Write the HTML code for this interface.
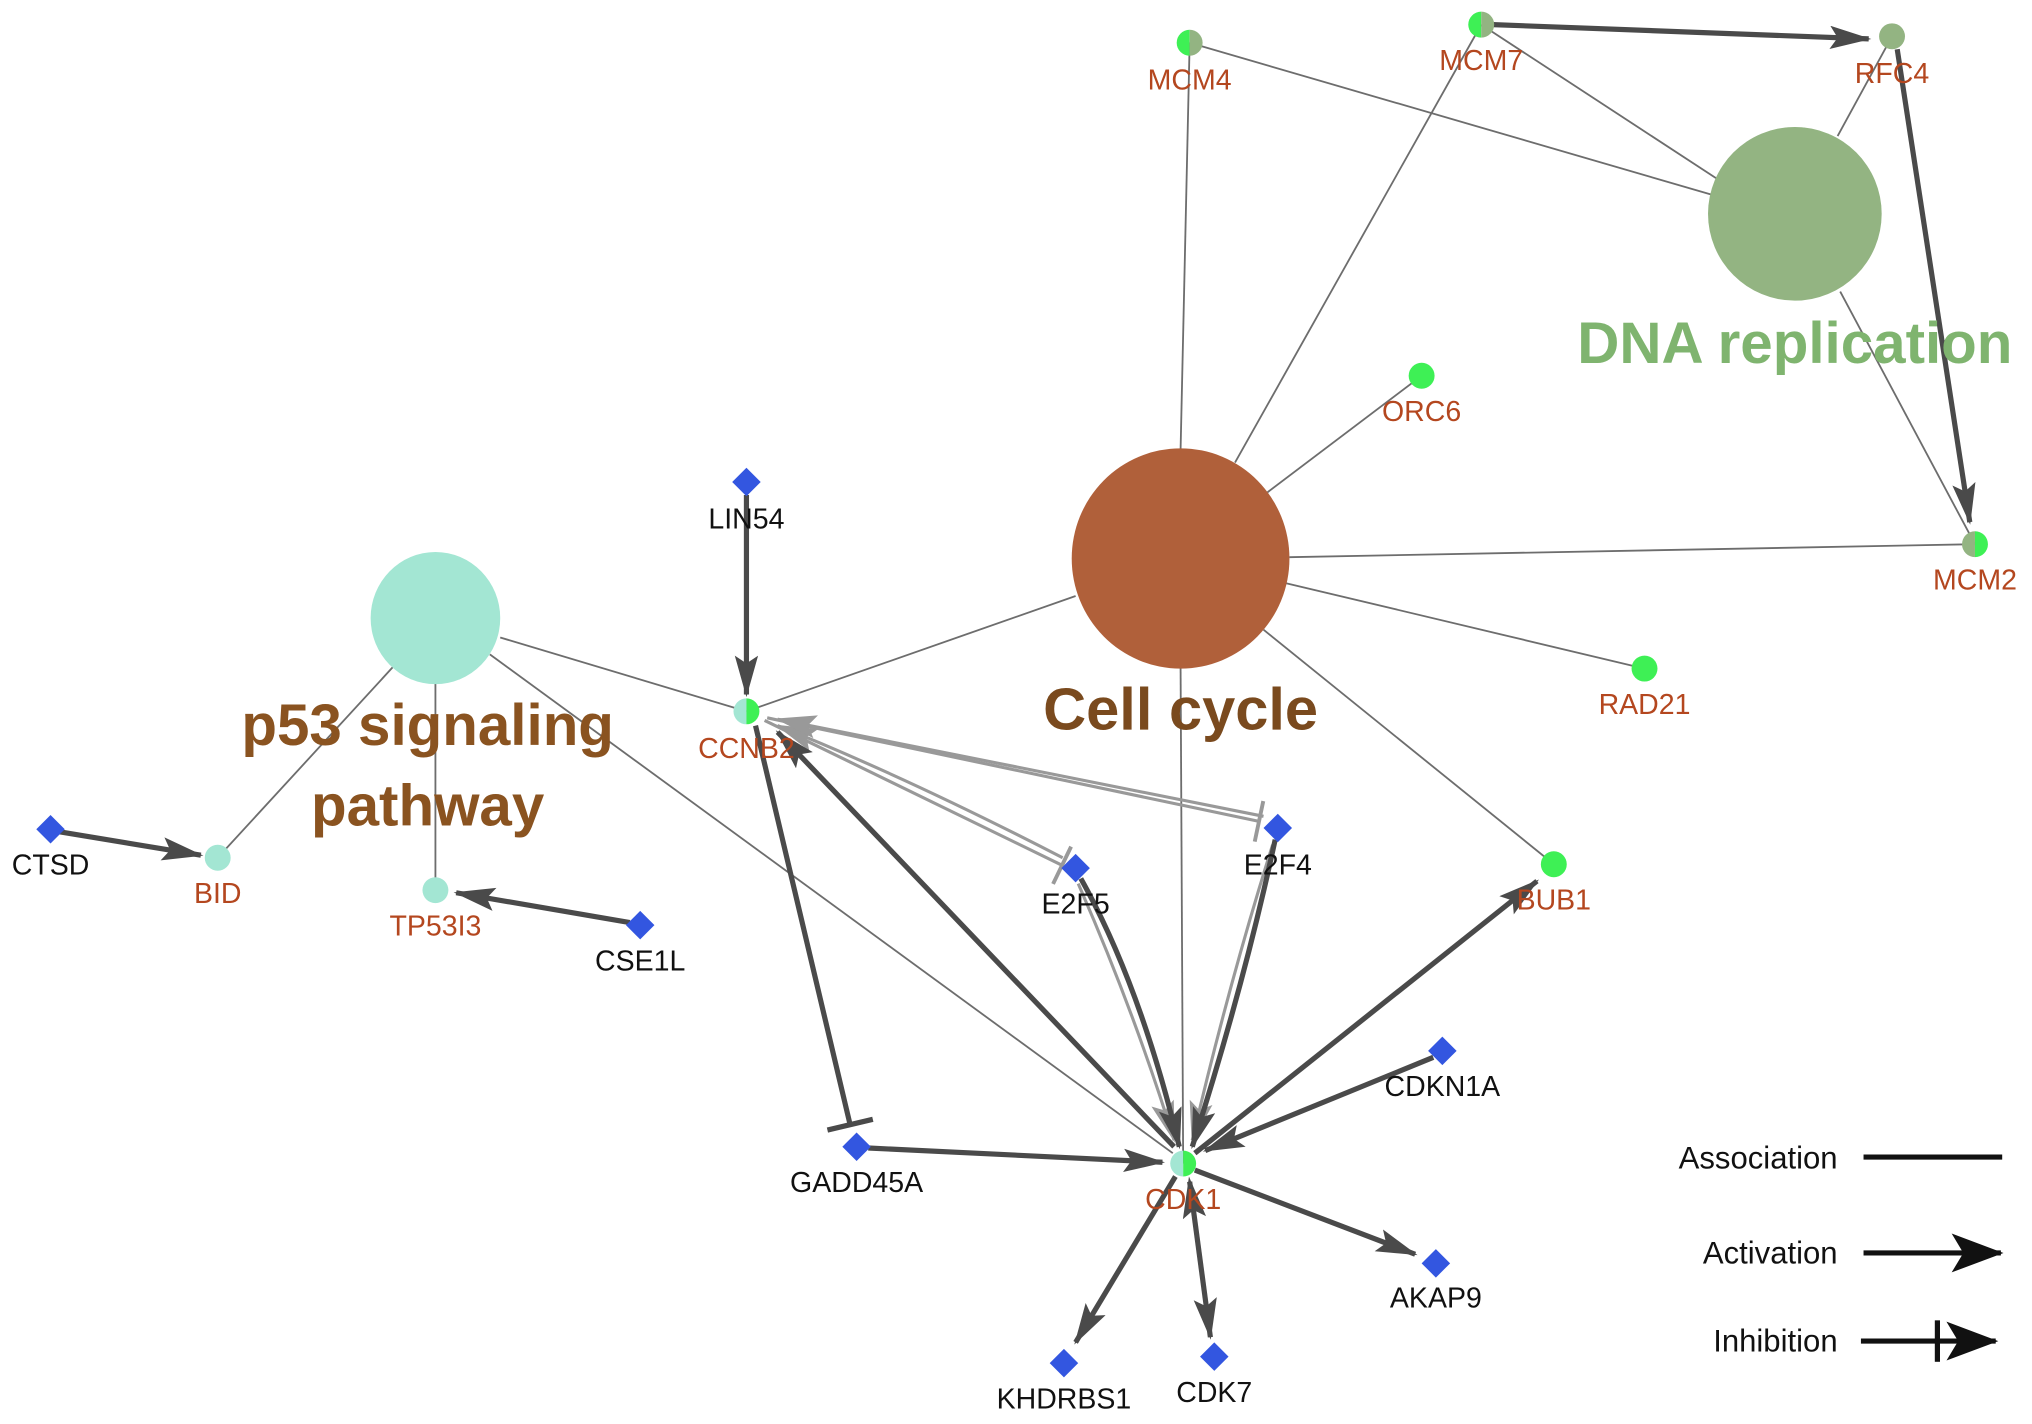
<!DOCTYPE html>
<html><head><meta charset="utf-8"><style>
html,body{margin:0;padding:0;background:#fff;}
svg{display:block;}
text{font-family:"Liberation Sans",Arial,sans-serif;}
.l{font-size:22px;fill:#b4471f;text-anchor:middle;}
.k{font-size:22px;fill:#111;text-anchor:middle;}
.a{stroke:#6d6d6d;stroke-width:1.4;fill:none;}
.t{stroke:#4a4a4a;stroke-width:4;fill:none;}
.g{stroke:#999;stroke-width:2.4;fill:none;}
</style></head><body>
<svg width="2032" height="1424" viewBox="0 0 1568 1099" preserveAspectRatio="none" xmlns="http://www.w3.org/2000/svg">
<defs>
<marker id="ar" markerUnits="userSpaceOnUse" markerWidth="34" markerHeight="22" refX="30" refY="9" orient="auto"><path d="M0,0 L32,9 L0,18 L6,9 Z" fill="#4a4a4a"/></marker>
<marker id="arg" markerUnits="userSpaceOnUse" markerWidth="34" markerHeight="22" refX="30" refY="9" orient="auto"><path d="M0,0 L32,9 L0,18 L6,9 Z" fill="#999"/></marker>
<marker id="ars" markerUnits="userSpaceOnUse" markerWidth="34" markerHeight="22" refX="4" refY="9" orient="auto"><path d="M32,0 L0,9 L32,18 L26,9 Z" fill="#4a4a4a"/></marker>
<marker id="bar" markerUnits="userSpaceOnUse" markerWidth="8" markerHeight="40" refX="4" refY="20" orient="auto"><rect x="2" y="2" width="4" height="36" fill="#4a4a4a"/></marker>
<marker id="barg" markerUnits="userSpaceOnUse" markerWidth="8" markerHeight="40" refX="4" refY="20" orient="auto"><rect x="2" y="4" width="3" height="32" fill="#999"/></marker>
<marker id="la" markerUnits="userSpaceOnUse" markerWidth="40" markerHeight="30" refX="38" refY="15" orient="auto"><path d="M0,0 L40,15 L0,30 L9,15 Z" fill="#111"/></marker>
</defs>

<line class="a" x1="918" y1="33" x2="1320" y2="150"/>
<line class="a" x1="918" y1="33" x2="911" y2="347"/>
<line class="a" x1="1143" y1="19" x2="953" y2="357"/>
<line class="a" x1="1143" y1="19" x2="1328" y2="140"/>
<line class="a" x1="1460" y1="28" x2="1418" y2="105"/>
<line class="a" x1="1420" y1="225" x2="1524" y2="420"/>
<line class="a" x1="978" y1="380" x2="1097" y2="290"/>
<line class="a" x1="995" y1="430" x2="1524" y2="420"/>
<line class="a" x1="992" y1="450" x2="1269" y2="516"/>
<line class="a" x1="975" y1="486" x2="1199" y2="667"/>
<line class="a" x1="830" y1="460" x2="576" y2="549"/>
<line class="a" x1="911" y1="515" x2="913" y2="898"/>
<line class="a" x1="386" y1="492" x2="576" y2="549"/>
<line class="a" x1="303" y1="515" x2="168" y2="662"/>
<line class="a" x1="336" y1="527" x2="336" y2="687"/>
<line class="a" x1="378" y1="505" x2="905" y2="890"/>

<path class="g" d="M590,556 Q700,610 820,668" marker-end="url(#barg)"/>
<path class="g" d="M820,662 Q700,600 600,560" marker-end="url(#arg)"/>
<path class="g" d="M592,554 L972,634" marker-end="url(#barg)"/>
<path class="g" d="M975,630 L600,555" marker-end="url(#arg)"/>
<path class="g" d="M832,682 Q875,780 906,880" marker-end="url(#arg)"/>
<path class="g" d="M982,652 Q948,760 920,880" marker-end="url(#arg)"/>

<line class="t" x1="1152" y1="19" x2="1442" y2="30" marker-end="url(#ar)"/>
<line class="t" x1="1464" y1="38" x2="1520" y2="403" marker-end="url(#ar)"/>
<line class="t" x1="576" y1="382" x2="576" y2="536" marker-end="url(#ar)"/>
<line class="t" x1="46" y1="642" x2="155" y2="660" marker-end="url(#ar)"/>
<line class="t" x1="486" y1="712" x2="352" y2="689" marker-end="url(#ar)"/>
<line class="t" x1="583" y1="560" x2="656" y2="868" marker-end="url(#bar)"/>
<line class="t" x1="670" y1="886" x2="897" y2="897" marker-end="url(#ar)"/>
<line class="t" x1="906" y1="885" x2="600" y2="565" marker-end="url(#ar)"/>
<path class="t" d="M834,678 Q880,760 910,885" marker-end="url(#ar)"/>
<path class="t" d="M984,648 Q960,760 920,885" marker-end="url(#ar)"/>
<line class="t" x1="1106" y1="816" x2="930" y2="888" marker-end="url(#ar)"/>
<line class="t" x1="922" y1="890" x2="1186" y2="680" marker-end="url(#ar)"/>
<line class="t" x1="922" y1="903" x2="1092" y2="968" marker-end="url(#ar)"/>
<line class="t" x1="907" y1="908" x2="830" y2="1036" marker-end="url(#ar)"/>
<line class="t" x1="918" y1="912" x2="934" y2="1032" marker-start="url(#ars)" marker-end="url(#ar)"/>

<circle cx="1385" cy="165" r="67" fill="#93b482"/>
<ellipse cx="911" cy="431" rx="84" ry="85" fill="#b0603a"/>
<ellipse cx="336" cy="477" rx="50" ry="51" fill="#a3e6d3"/>

<g>
<path d="M918,23 a10,10 0 0 0 0,20 Z" fill="#3ef055"/><path d="M918,23 a10,10 0 0 1 0,20 Z" fill="#93b482"/>
<path d="M1143,9 a10,10 0 0 0 0,20 Z" fill="#3ef055"/><path d="M1143,9 a10,10 0 0 1 0,20 Z" fill="#93b482"/>
<circle cx="1460" cy="28" r="10" fill="#93b482"/>
<path d="M1524,410 a10,10 0 0 0 0,20 Z" fill="#93b482"/><path d="M1524,410 a10,10 0 0 1 0,20 Z" fill="#3ef055"/>
<circle cx="1097" cy="290" r="10" fill="#3ef055"/>
<circle cx="1269" cy="516" r="10" fill="#3ef055"/>
<circle cx="1199" cy="667" r="10" fill="#3ef055"/>
<path d="M576,539 a10,10 0 0 0 0,20 Z" fill="#a3e6d3"/><path d="M576,539 a10,10 0 0 1 0,20 Z" fill="#3ef055"/>
<path d="M913,888 a10,10 0 0 0 0,20 Z" fill="#a3e6d3"/><path d="M913,888 a10,10 0 0 1 0,20 Z" fill="#3ef055"/>
<circle cx="168" cy="662" r="10" fill="#a3e6d3"/>
<circle cx="336" cy="687" r="10" fill="#a3e6d3"/>
</g>
<g fill="#3356e0">
<path d="M576,361 l11,11 l-11,11 l-11,-11 Z"/>
<path d="M39,629 l11,11 l-11,11 l-11,-11 Z"/>
<path d="M494,703 l11,11 l-11,11 l-11,-11 Z"/>
<path d="M830,659 l11,11 l-11,11 l-11,-11 Z"/>
<path d="M986,628 l11,11 l-11,11 l-11,-11 Z"/>
<path d="M1113,800 l11,11 l-11,11 l-11,-11 Z"/>
<path d="M661,874 l11,11 l-11,11 l-11,-11 Z"/>
<path d="M1108,964 l11,11 l-11,11 l-11,-11 Z"/>
<path d="M821,1041 l11,11 l-11,11 l-11,-11 Z"/>
<path d="M937,1036 l11,11 l-11,11 l-11,-11 Z"/>
</g>

<text class="l" x="918" y="69">MCM4</text>
<text class="l" x="1143" y="54">MCM7</text>
<text class="l" x="1460" y="64">RFC4</text>
<text class="l" x="1524" y="455">MCM2</text>
<text class="l" x="1097" y="325">ORC6</text>
<text class="l" x="1269" y="551">RAD21</text>
<text class="l" x="1199" y="702">BUB1</text>
<text class="l" x="576" y="585">CCNB2</text>
<text class="l" x="913" y="933">CDK1</text>
<text class="l" x="168" y="697">BID</text>
<text class="l" x="336" y="722">TP53I3</text>
<text class="k" x="576" y="408">LIN54</text>
<text class="k" x="39" y="675">CTSD</text>
<text class="k" x="494" y="749">CSE1L</text>
<text class="k" x="830" y="705">E2F5</text>
<text class="k" x="986" y="675">E2F4</text>
<text class="k" x="1113" y="846">CDKN1A</text>
<text class="k" x="661" y="920">GADD45A</text>
<text class="k" x="1108" y="1009">AKAP9</text>
<text class="k" x="821" y="1087">KHDRBS1</text>
<text class="k" x="937" y="1082">CDK7</text>

<text x="1385" y="280" font-size="45" font-weight="bold" fill="#7fb46f" text-anchor="middle">DNA replication</text>
<text x="911" y="563" font-size="46" font-weight="bold" fill="#7a4a1e" text-anchor="middle">Cell cycle</text>
<text x="330" y="575" font-size="45" font-weight="bold" fill="#8a5320" text-anchor="middle">p53 signaling</text>
<text x="330" y="637" font-size="45" font-weight="bold" fill="#8a5320" text-anchor="middle">pathway</text>

<text x="1418" y="902" font-size="24" fill="#111" text-anchor="end">Association</text>
<line x1="1438" y1="893" x2="1545" y2="893" stroke="#111" stroke-width="4"/>
<text x="1418" y="975" font-size="24" fill="#111" text-anchor="end">Activation</text>
<line x1="1438" y1="967" x2="1544" y2="967" stroke="#111" stroke-width="4" marker-end="url(#la)"/>
<text x="1418" y="1043" font-size="24" fill="#111" text-anchor="end">Inhibition</text>
<line x1="1436" y1="1035" x2="1540" y2="1035" stroke="#111" stroke-width="4" marker-end="url(#la)"/>
<line x1="1495" y1="1019" x2="1495" y2="1051" stroke="#111" stroke-width="4"/>
</svg>
</body></html>
